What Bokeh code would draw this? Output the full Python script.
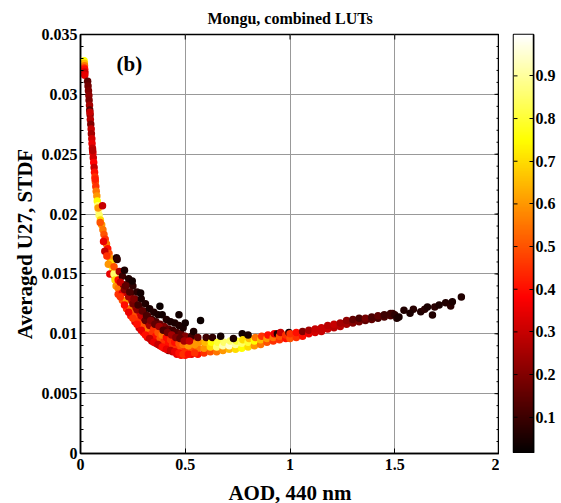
import numpy as np
from bokeh.plotting import figure
from bokeh.layouts import row
from bokeh.models import (LinearColorMapper, Label, FixedTicker, Range1d, ColumnDataSource)
from bokeh.embed import file_html
from bokeh.resources import INLINE

# ---- data ----
aod = [
    # top cluster
    0.017, 0.018, 0.019, 0.018, 0.020, 0.019, 0.021, 0.020,
    # steep branch
    0.034, 0.036, 0.038, 0.040, 0.041, 0.043, 0.044, 0.046, 0.047, 0.049, 0.051, 0.052,
    0.054, 0.055, 0.057, 0.059, 0.061, 0.063, 0.065, 0.067, 0.069, 0.071, 0.073, 0.075,
    0.078, 0.080, 0.083, 0.086, 0.089, 0.095, 0.101, 0.107, 0.112, 0.118, 0.124, 0.130,
    0.136, 0.141, 0.147, 0.153, 0.159, 0.165,
    0.045, 0.058, 0.070, 0.084, 0.094, 0.110, 0.116, 0.126, 0.133, 0.140, 0.105, 0.172,
    # knee band
    0.160, 0.165, 0.160, 0.170, 0.175,
    0.180, 0.180, 0.185, 0.180,
    0.200, 0.200, 0.205, 0.200, 0.210,
    0.220, 0.220, 0.225, 0.220, 0.230,
    0.240, 0.240, 0.245, 0.240, 0.250, 0.247,
    0.260, 0.260, 0.265, 0.260, 0.270,
    0.280, 0.280, 0.285, 0.280, 0.290, 0.287,
    0.300, 0.300, 0.305, 0.300, 0.310,
    0.320, 0.320, 0.325, 0.320, 0.330,
    0.340, 0.340, 0.345, 0.340, 0.350,
    0.360, 0.360, 0.365, 0.360, 0.370, 0.379,
    0.380, 0.380, 0.385, 0.380, 0.390,
    0.400, 0.400, 0.405, 0.400, 0.410,
    0.420, 0.420, 0.425, 0.420, 0.430,
    0.440, 0.440, 0.445, 0.440, 0.450,
    0.460, 0.460, 0.465, 0.460, 0.470, 0.470,
    0.480, 0.480, 0.485, 0.480, 0.490,
    0.500, 0.500, 0.505, 0.500, 0.500,
    0.530, 0.530, 0.535, 0.530, 0.540,
    0.560, 0.560, 0.565, 0.560, 0.573,
    0.590, 0.590, 0.595, 0.600,
    0.620, 0.620, 0.625, 0.630,
    0.650, 0.650, 0.655,
    0.680, 0.680, 0.685, 0.669,
    0.710, 0.710, 0.715,
    0.740, 0.740, 0.745, 0.730,
    0.770, 0.770, 0.772, 0.775,
    0.800, 0.800, 0.805, 0.800,
    0.830, 0.830, 0.835,
    0.860, 0.860, 0.865,
    0.890, 0.890, 0.895,
    0.920, 0.920, 0.925, 0.940,
    0.950, 0.950, 0.955,
    0.980, 0.980, 0.995,
    # knee fill
    0.190, 0.210, 0.230, 0.250, 0.270, 0.290, 0.310, 0.330, 0.350, 0.370, 0.390, 0.410,
    0.430, 0.450, 0.470, 0.490, 0.515, 0.545,
    0.190, 0.210, 0.230, 0.250, 0.270, 0.290, 0.310, 0.330, 0.350, 0.370, 0.390, 0.410,
    0.430, 0.450, 0.470, 0.490, 0.515, 0.545,
    0.215, 0.235, 0.255, 0.275, 0.295, 0.315, 0.335, 0.355, 0.375, 0.395, 0.415, 0.435,
    0.455, 0.475, 0.495, 0.520,
    # rising branch
    1.00, 1.00, 1.03, 1.03, 1.06, 1.06, 1.09, 1.09, 1.12, 1.12, 1.15, 1.15,
    1.18, 1.18, 1.21, 1.21, 1.24, 1.24, 1.27, 1.27, 1.30, 1.30, 1.33, 1.33,
    1.36, 1.36, 1.39, 1.39, 1.42, 1.42, 1.45, 1.45, 1.48, 1.48,
    1.49, 1.50, 1.51, 1.52,
    # sparse tail
    1.544, 1.589, 1.573, 1.624, 1.643, 1.656, 1.680, 1.691, 1.712, 1.743, 1.767, 1.775, 1.818,
]

u27 = [
    0.0328, 0.0326, 0.0324, 0.0322, 0.0321, 0.0319, 0.0318, 0.0316,
    0.0311, 0.0307, 0.0303, 0.0299, 0.0295, 0.0291, 0.0287, 0.0283, 0.0279, 0.0275, 0.0271, 0.0267,
    0.0263, 0.0259, 0.0255, 0.0251, 0.0247, 0.0243, 0.0239, 0.0235, 0.0231, 0.0227, 0.0223, 0.0219,
    0.0215, 0.0211, 0.0207, 0.0203, 0.0199, 0.0195, 0.0191, 0.0187, 0.0183, 0.0179, 0.0175, 0.0171,
    0.0167, 0.0163, 0.0159, 0.0155, 0.0151, 0.0147,
    0.0285, 0.0253, 0.0229, 0.0205, 0.0193, 0.0177, 0.0169, 0.0165, 0.0158, 0.0150, 0.0207, 0.01635,
    0.0150, 0.0145, 0.0156, 0.0140, 0.0162,
    0.0138, 0.0145, 0.0152, 0.0133,
    0.0128, 0.0134, 0.0141, 0.0148, 0.0153,
    0.0121, 0.0128, 0.0135, 0.0141, 0.0146,
    0.0115, 0.0121, 0.0128, 0.0134, 0.0140, 0.0144,
    0.0110, 0.0116, 0.0122, 0.0129, 0.0135,
    0.0105, 0.0111, 0.0117, 0.0123, 0.0129, 0.0134,
    0.0101, 0.0107, 0.0113, 0.0119, 0.0125,
    0.0097, 0.0103, 0.0109, 0.0115, 0.0121,
    0.0094, 0.0100, 0.0106, 0.0112, 0.0118,
    0.0092, 0.0098, 0.0104, 0.0110, 0.0116, 0.0123,
    0.0090, 0.0096, 0.0102, 0.0108, 0.0116,
    0.0088, 0.0094, 0.0100, 0.0106, 0.0112,
    0.0086, 0.0092, 0.0098, 0.0104, 0.0110,
    0.0085, 0.0091, 0.0097, 0.0103, 0.0109,
    0.0083, 0.0089, 0.0095, 0.0101, 0.0116, 0.0107,
    0.0082, 0.0088, 0.0094, 0.0100, 0.0105,
    0.0082, 0.0087, 0.0093, 0.0098, 0.0109,
    0.0083, 0.0088, 0.0093, 0.0098, 0.0102,
    0.0083, 0.0088, 0.0093, 0.0097, 0.0111,
    0.0084, 0.0088, 0.0093, 0.0097,
    0.0085, 0.0089, 0.0093, 0.0097,
    0.0085, 0.0089, 0.0093,
    0.0086, 0.0090, 0.0093, 0.0098,
    0.0087, 0.0090, 0.0094,
    0.0087, 0.0091, 0.0094, 0.0096,
    0.0088, 0.0092, 0.0100, 0.0095,
    0.0089, 0.0093, 0.0096, 0.0099,
    0.0090, 0.0094, 0.0097,
    0.0091, 0.0095, 0.0098,
    0.0093, 0.0096, 0.0099,
    0.0094, 0.0097, 0.0100, 0.0100,
    0.0095, 0.0098, 0.0101,
    0.0096, 0.0099, 0.0101,
    # knee fill
    0.0131, 0.0124, 0.0118, 0.0113, 0.0108, 0.0103, 0.0099, 0.0096, 0.0093, 0.0091, 0.0089, 0.0087,
    0.0086, 0.0085, 0.0084, 0.0083, 0.0083, 0.0084,
    0.0143, 0.0137, 0.0131, 0.0125, 0.0120, 0.0115, 0.0111, 0.0107, 0.0104, 0.0101, 0.0099, 0.0097,
    0.0095, 0.0093, 0.0092, 0.0091, 0.0090, 0.0091,
    0.0140, 0.0135, 0.0129, 0.0124, 0.0119, 0.0115, 0.0111, 0.0108, 0.0106, 0.0103, 0.0101, 0.0099,
    0.0097, 0.0096, 0.0094, 0.0094,
    # rising branch
    0.0096, 0.0100, 0.0097, 0.0101, 0.0098, 0.0102, 0.0100, 0.0103, 0.0101, 0.0104, 0.0102, 0.0105,
    0.0104, 0.0107, 0.0105, 0.0108, 0.0106, 0.0109, 0.0108, 0.0111, 0.0109, 0.0112, 0.0110, 0.0113,
    0.0111, 0.0113, 0.0112, 0.0114, 0.0113, 0.0115, 0.0114, 0.0116, 0.0115, 0.0117,
    0.0117, 0.0116, 0.0113, 0.0114,
    0.01197, 0.01205, 0.01172, 0.01185, 0.01205, 0.01224, 0.01157, 0.01224, 0.01241, 0.0126, 0.01232, 0.01268, 0.01308,
]

ratio = [
    0.75, 0.65, 0.55, 0.45, 0.40, 0.35, 0.30, 0.35,
    0.15, 0.18, 0.20, 0.22, 0.20, 0.25, 0.15, 0.22, 0.28, 0.20, 0.30, 0.25,
    0.32, 0.35, 0.30, 0.36, 0.32, 0.38, 0.30, 0.40, 0.45, 0.50, 0.45, 0.55,
    0.60, 0.75, 0.85, 0.90, 0.85, 0.70, 0.60, 0.55, 0.50, 0.45, 0.55, 0.40,
    0.50, 0.60, 0.70, 0.80, 0.75, 0.65,
    0.30, 0.28, 0.42, 0.60, 0.50, 0.35, 0.30, 0.45, 0.60, 0.35, 0.30, 0.05,
    0.85, 0.70, 0.50, 0.60, 0.08,
    0.55, 0.40, 0.25, 0.45,
    0.50, 0.35, 0.20, 0.10, 0.05,
    0.45, 0.60, 0.30, 0.15, 0.06,
    0.40, 0.55, 0.30, 0.12, 0.08, 0.04,
    0.35, 0.50, 0.25, 0.15, 0.07,
    0.30, 0.45, 0.35, 0.12, 0.05, 0.04,
    0.40, 0.50, 0.20, 0.10, 0.06,
    0.35, 0.55, 0.30, 0.15, 0.05,
    0.30, 0.45, 0.25, 0.10, 0.06,
    0.25, 0.40, 0.60, 0.12, 0.05, 0.03,
    0.35, 0.50, 0.65, 0.15, 0.04,
    0.30, 0.45, 0.55, 0.20, 0.06,
    0.20, 0.40, 0.50, 0.15, 0.05,
    0.30, 0.45, 0.35, 0.10, 0.05,
    0.35, 0.45, 0.40, 0.12, 0.04, 0.06,
    0.40, 0.50, 0.45, 0.15, 0.05,
    0.40, 0.45, 0.50, 0.20, 0.04,
    0.35, 0.50, 0.55, 0.10, 0.05,
    0.40, 0.55, 0.60, 0.15, 0.03,
    0.45, 0.60, 0.65, 0.10,
    0.50, 0.70, 0.75, 0.08,
    0.55, 0.85, 0.80,
    0.60, 0.92, 0.85, 0.04,
    0.65, 0.95, 0.85,
    0.70, 0.90, 0.80, 0.05,
    0.75, 0.85, 0.04, 0.70,
    0.70, 0.80, 0.65, 0.05,
    0.60, 0.75, 0.55,
    0.55, 0.65, 0.45,
    0.50, 0.60, 0.40,
    0.45, 0.55, 0.35, 0.05,
    0.45, 0.50, 0.30,
    0.40, 0.45, 0.05,
    # knee fill
    0.45, 0.40, 0.35, 0.45, 0.40, 0.35, 0.40, 0.30, 0.35, 0.30, 0.40, 0.35,
    0.30, 0.35, 0.40, 0.45, 0.40, 0.45,
    0.30, 0.20, 0.25, 0.18, 0.22, 0.30, 0.15, 0.25, 0.45, 0.50, 0.55, 0.40,
    0.45, 0.40, 0.50, 0.55, 0.60, 0.60,
    0.15, 0.12, 0.20, 0.10, 0.15, 0.12, 0.20, 0.15, 0.25, 0.12, 0.18, 0.25,
    0.20, 0.15, 0.25, 0.30,
    # rising branch
    0.50, 0.45, 0.45, 0.40, 0.40, 0.20, 0.35, 0.25, 0.32, 0.30, 0.30, 0.30,
    0.30, 0.28, 0.28, 0.30, 0.28, 0.25, 0.25, 0.22, 0.20, 0.15, 0.18, 0.12,
    0.15, 0.18, 0.15, 0.12, 0.12, 0.15, 0.12, 0.10, 0.12, 0.10,
    0.10, 0.08, 0.06, 0.05,
    0.06, 0.07, 0.05, 0.06, 0.07, 0.05, 0.06, 0.07, 0.05, 0.06, 0.07, 0.05, 0.06,
]

x_ticks = [0, 0.5, 1, 1.5, 2]
y_ticks = [0, 0.005, 0.01, 0.015, 0.02, 0.025, 0.03, 0.035]
y_minor = [i * 0.001 for i in range(36)]
cbar_ticks = [0.1, 0.2, 0.3, 0.4, 0.5, 0.6, 0.7, 0.8, 0.9]
cbar_low, cbar_high = 0.015, 0.997
x_lo, x_hi = 0, 2
y_lo, y_hi = 0, 0.035

# MATLAB-like "hot" colour map
def hot(m=256):
    n = int(3 * m / 8)
    pal = []
    for i in range(m):
        r = min(1.0, (i + 1) / n)
        g = min(1.0, max(0.0, (i + 1 - n) / n))
        b = min(1.0, max(0.0, (i + 1 - 2 * n) / (m - 2 * n)))
        pal.append("#%02x%02x%02x" % (round(r * 255), round(g * 255), round(b * 255)))
    return pal

FONT = "Liberation Serif"
FW, FH = 419, 419
TOP = 34
mapper = LinearColorMapper(palette=hot(), low=cbar_low, high=cbar_high)

p = figure(frame_width=FW, frame_height=FH, output_backend="svg", toolbar_location=None,
           x_range=Range1d(x_lo, x_hi), y_range=Range1d(y_lo, y_hi),
           min_border_left=80, min_border_top=TOP, min_border_right=0, min_border_bottom=0,
           title="Mongu, combined LUTs")
p.title.align = "center"
p.title.text_font = FONT
p.title.text_font_size = "16px"
p.title.text_font_style = "bold"
p.title.text_color = "black"
p.title.standoff = 15

src = ColumnDataSource(dict(x=aod, y=u27, c=ratio))
p.scatter("x", "y", source=src, size=7.5, marker="circle", line_color=None,
          fill_color={"field": "c", "transform": mapper})

for ax in (p.xaxis[0], p.yaxis[0]):
    ax.major_label_text_font = FONT
    ax.major_label_text_font_size = "16px"
    ax.major_label_text_font_style = "bold"
    ax.major_label_text_color = "black"
    ax.axis_label_text_font = FONT
    ax.axis_label_text_font_size = "21px"
    ax.axis_label_text_font_style = "bold"
    ax.axis_label_text_color = "black"
    ax.major_tick_in = 5
    ax.major_tick_out = 0
    ax.minor_tick_in = 3
    ax.minor_tick_out = 0
    ax.axis_line_width = 1.5
    ax.major_tick_line_color = "black"
    ax.minor_tick_line_color = "black"

p.xaxis.axis_label = "AOD, 440 nm"
p.yaxis.axis_label = "Averaged U27, STDF"
p.xaxis[0].ticker = FixedTicker(ticks=x_ticks)
p.yaxis[0].ticker = FixedTicker(ticks=y_ticks, minor_ticks=y_minor)
p.xaxis.major_label_standoff = 5
p.yaxis.major_label_standoff = 3
p.xaxis.axis_label_standoff = 8
p.yaxis.axis_label_standoff = 2
p.yaxis.major_label_overrides = {0: "0", 0.005: "0.005", 0.01: "0.01", 0.015: "0.015", 0.02: "0.02",
                                 0.025: "0.025", 0.03: "0.03", 0.035: "0.035"}
p.xaxis.major_label_overrides = {0: "0", 0.5: "0.5", 1: "1", 1.5: "1.5", 2: "2"}

# box ticks on top / right edges (tick lengths in px converted to data units)
dx_major = 5 * (x_hi - x_lo) / FW
dx_minor = 3 * (x_hi - x_lo) / FW
dy_major = 5 * (y_hi - y_lo) / FH
p.segment(x0=[x_hi] * len(y_ticks), y0=y_ticks, x1=[x_hi - dx_major] * len(y_ticks), y1=y_ticks,
          line_color="black", line_width=1)
p.segment(x0=[x_hi] * len(y_minor), y0=y_minor, x1=[x_hi - dx_minor] * len(y_minor), y1=y_minor,
          line_color="black", line_width=1)
p.segment(x0=x_ticks, y0=[y_hi] * len(x_ticks), x1=x_ticks, y1=[y_hi - dy_major] * len(x_ticks),
          line_color="black", line_width=1)

p.grid.grid_line_color = "#999999"
p.xgrid.ticker = FixedTicker(ticks=x_ticks)
p.ygrid.ticker = FixedTicker(ticks=y_ticks)
p.outline_line_color = "black"
p.outline_line_width = 1.5

p.add_layout(Label(x=0.172, y=0.0325, text="(b)", text_font=FONT, text_font_size="21px",
                   text_font_style="bold", text_baseline="middle", text_color="black"))

# ---- colour bar as its own small figure ----
CBW = 20
cb = figure(frame_width=CBW, frame_height=FH, output_backend="svg", toolbar_location=None,
            x_range=Range1d(0, 1), y_range=Range1d(cbar_low, cbar_high),
            x_axis_location=None, y_axis_location="right",
            min_border_left=14, min_border_top=TOP, min_border_right=0, min_border_bottom=0)
grad = np.linspace(cbar_low, cbar_high, 256).reshape(-1, 1)
cb.image(image=[grad], x=0, y=cbar_low, dw=1, dh=cbar_high - cbar_low, color_mapper=mapper)
cb.grid.visible = False
cb.outline_line_color = "black"
cb.outline_line_width = 1.5
cax = cb.yaxis[0]
cax.ticker = FixedTicker(ticks=cbar_ticks)
cax.major_tick_in = 4
cax.major_tick_out = 0
cax.minor_tick_in = 0
cax.minor_tick_out = 0
cax.major_tick_line_color = "black"
cax.axis_line_color = "black"
cax.axis_line_width = 1.5
cax.major_label_text_font = FONT
cax.major_label_text_font_size = "16px"
cax.major_label_text_font_style = "bold"
cax.major_label_text_color = "black"
cax.major_label_standoff = 2
cax.major_label_overrides = {t: "%.1f" % t for t in cbar_ticks}
tick_len = 4 / CBW
cb.segment(x0=[0] * len(cbar_ticks), y0=cbar_ticks, x1=[tick_len] * len(cbar_ticks), y1=cbar_ticks,
           line_color="black", line_width=1)

layout = row(p, cb)
open("out.html", "w").write(file_html(layout, INLINE))
